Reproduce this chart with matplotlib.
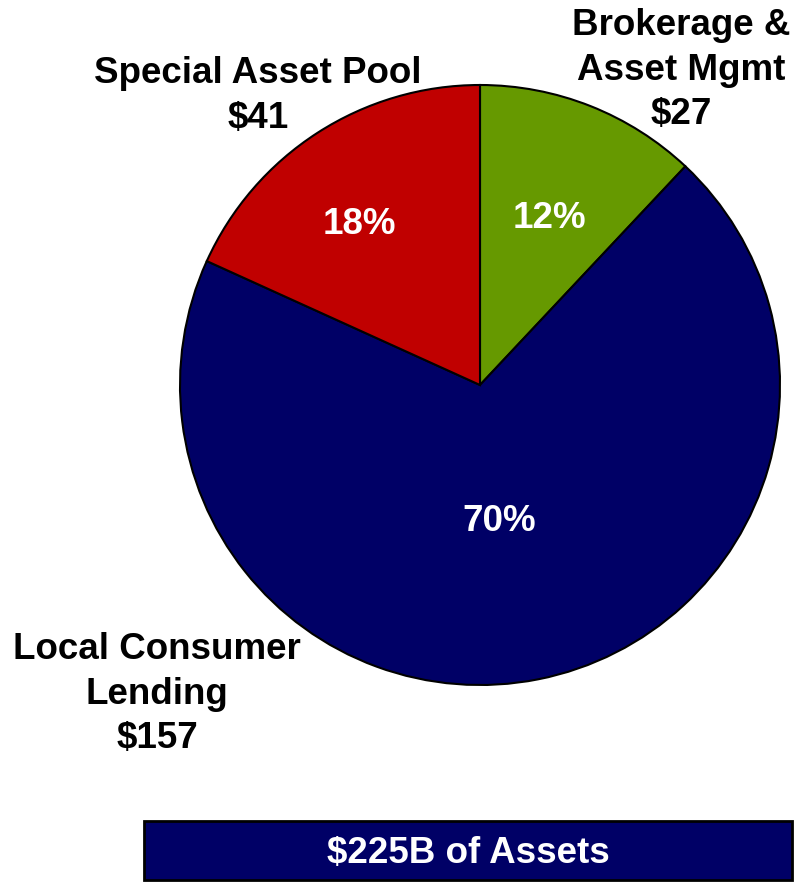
import numpy as np
import matplotlib.pyplot as plt

plt.rcParams['font.family'] = ['Liberation Sans', 'DejaVu Sans']

segments = ['Brokerage &\nAsset Mgmt', 'Local Consumer\nLending', 'Special Asset Pool']
assets = [27, 157, 41]
colors = ['#669900', '#000066', '#C00000']
total_label = '$225B of Assets'

# pixel-like coordinates, y up
W, H = 794, 882
cx, cy, r = 480, H - 385, 300

fig = plt.figure(figsize=(W / 100, H / 100), dpi=100)
ax = fig.add_axes([0, 0, 1, 1])

wedges, _ = ax.pie(assets, colors=colors, startangle=90, counterclock=False,
                   center=(cx, cy), radius=r,
                   wedgeprops=dict(edgecolor='black', linewidth=1.5))
# pie resets the limits, so set them afterwards
ax.set_xlim(0, W)
ax.set_ylim(0, H)
ax.set_aspect('equal')
ax.axis('off')

# percentage labels inside wedges
pct_dist = [0.60, 0.46, 0.67]
pct_shift = [-1, -3, 4]
total = sum(assets)
for w, v, d, s in zip(wedges, assets, pct_dist, pct_shift):
    ang = np.deg2rad((w.theta1 + w.theta2) / 2 + s)
    ax.text(cx + d * r * np.cos(ang), cy + d * r * np.sin(ang),
            f'{v / total * 100:.0f}%', color='white', fontsize=26.5,
            fontweight='bold', ha='center', va='center')

# outer labels
label_pos = [(681, H - 70), (157, H - 694), (258, H - 96)]
for name, v, (x, y) in zip(segments, assets, label_pos):
    ax.text(x, y, f'{name}\n${v}', fontsize=26.5, fontweight='bold',
            ha='center', va='center', linespacing=1.36, color='black')

# total box
ax.add_patch(plt.Rectangle((144, H - 880), 648, 59, facecolor='#000066',
                           edgecolor='black', linewidth=2))
ax.text(144 + 324, H - 853, total_label, color='white', fontsize=26.5,
        fontweight='bold', ha='center', va='center')

fig.savefig('out.png', dpi=100)
